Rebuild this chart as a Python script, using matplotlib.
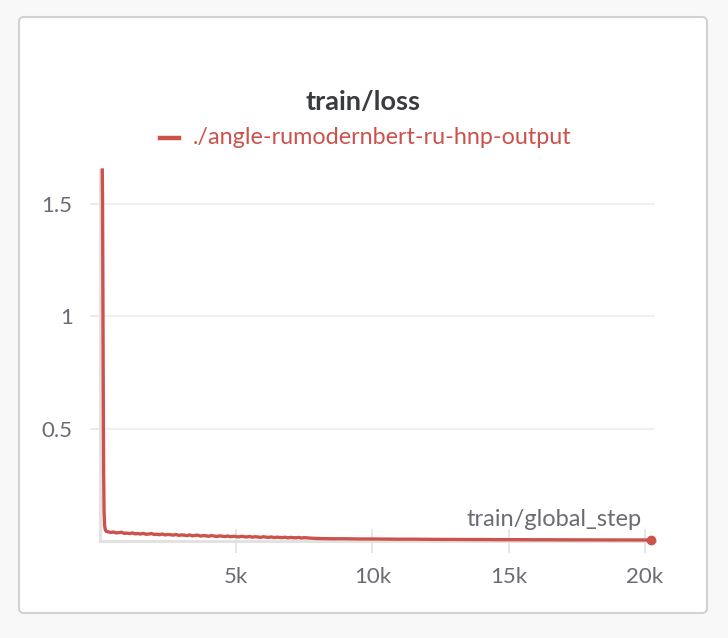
import matplotlib
matplotlib.use("Agg")
import matplotlib.pyplot as plt
from matplotlib.patches import FancyBboxPatch
from matplotlib.transforms import IdentityTransform

# ---- data ----
steps_drop = [95, 105, 115, 125, 135, 145, 160, 180, 205, 240]
loss_drop = [1.65, 1.50, 1.20, 0.85, 0.55, 0.30, 0.13, 0.07, 0.05, 0.043]

steps_mid = [300, 400, 500, 600, 700, 800, 900, 1000, 1100, 1200, 1300, 1400,
             1500, 1600, 1700, 1800, 1900, 2000, 2100, 2200, 2300, 2400, 2500,
             2600, 2700, 2800, 2900, 3000, 3100, 3200, 3300, 3400, 3500, 3600,
             3700, 3800, 3900, 4000, 4100, 4200, 4300, 4400, 4500, 4600, 4700,
             4800, 4900, 5000, 5100, 5200, 5300, 5400, 5500, 5600, 5700, 5800,
             5900, 6000, 6100, 6200, 6300, 6400, 6500, 6600, 6700, 6800, 6900,
             7000, 7100, 7200, 7300, 7400, 7500, 7600, 7700]
loss_mid = [0.041, 0.038, 0.040, 0.036, 0.037, 0.039, 0.034, 0.035, 0.033, 0.036,
            0.032, 0.033, 0.031, 0.034, 0.030, 0.031, 0.033, 0.029, 0.030, 0.028,
            0.031, 0.027, 0.029, 0.028, 0.026, 0.029, 0.025, 0.027, 0.026, 0.024,
            0.027, 0.023, 0.025, 0.026, 0.022, 0.024, 0.023, 0.021, 0.024, 0.022,
            0.020, 0.023, 0.021, 0.020, 0.022, 0.019, 0.021, 0.020, 0.018, 0.021,
            0.019, 0.018, 0.020, 0.017, 0.019, 0.018, 0.016, 0.019, 0.017, 0.016,
            0.018, 0.015, 0.017, 0.016, 0.015, 0.017, 0.014, 0.016, 0.015, 0.014,
            0.016, 0.013, 0.015, 0.014, 0.013]

steps_tail = [8000, 8500, 9000, 9500, 10000, 10500, 11000, 11500, 12000, 12500,
              13000, 13500, 14000, 14500, 15000, 15500, 16000, 16500, 17000,
              17500, 18000, 18500, 19000, 19500, 20000, 20230]
loss_tail = [0.011, 0.010, 0.010, 0.009, 0.009, 0.0085, 0.008, 0.008, 0.0075,
             0.007, 0.007, 0.0065, 0.0065, 0.006, 0.006, 0.0058, 0.0055, 0.0055,
             0.0052, 0.005, 0.005, 0.0048, 0.0047, 0.0046, 0.0045, 0.0045]

steps = steps_drop + steps_mid + steps_tail
loss = loss_drop + loss_mid + loss_tail

x_ticks = [5000, 10000, 15000, 20000]
x_tick_labels = ["5k", "10k", "15k", "20k"]
y_ticks = [0.5, 1.0, 1.5]
y_tick_labels = ["0.5", "1", "1.5"]

title = "train/loss"
series_name = "./angle-rumodernbert-ru-hnp-output"
x_label = "train/global_step"

# ---- style ----
plt.rcParams['font.family'] = ['Lato', 'DejaVu Sans']
RED = '#cc524c'
GRAY_TXT = '#6b6b76'
W, H = 728, 638

fig = plt.figure(figsize=(W / 100, H / 100), dpi=100)
fig.patch.set_facecolor('#f8f8f8')

card = FancyBboxPatch((19, H - 613), 707 - 19, 613 - 17,
                      boxstyle="round,pad=0,rounding_size=5",
                      transform=IdentityTransform(), facecolor='white',
                      edgecolor='#d2d2d2', linewidth=1.5, zorder=-10)
fig.patches.append(card)

def px(x, y):
    return x / W, 1 - y / H

x0, x1 = 99.7, 655.0
y0, y1 = 541.0, 170.0
ax = fig.add_axes([x0 / W, 1 - y0 / H, (x1 - x0) / W, (y0 - y1) / H])
ax.set_facecolor('none')
ax.set_zorder(1)
xmax = (x1 - x0) / 136.3 * 5000
ax.set_xlim(0, xmax)
ax.set_ylim(0, 1.65)

ax.plot(steps, loss, color=RED, lw=2.4, solid_joinstyle='round', zorder=3, clip_on=False)
ax.plot([steps[-1]], [loss[-1]], 'o', color=RED, ms=6, zorder=4, clip_on=False)

for s in ['top', 'right']:
    ax.spines[s].set_visible(False)
for s in ['left', 'bottom']:
    ax.spines[s].set_color('#e2e2e2')
    ax.spines[s].set_linewidth(2.2)

ax.set_xticks(x_ticks)
ax.set_xticklabels(x_tick_labels)
ax.set_yticks(y_ticks)
ax.set_yticklabels(y_tick_labels)
ax.tick_params(axis='x', direction='inout', length=17, width=1.4, color='#e6e6e6',
               labelsize=16, labelcolor=GRAY_TXT, pad=10)
ax.tick_params(axis='y', direction='out', length=7.5, width=1.2, color='#e6e6e6',
               labelsize=16, labelcolor=GRAY_TXT, pad=12)
ax.grid(axis='y', color='#ececec', lw=1.1)
ax.set_axisbelow(True)

fig.text(*px(363, 102), title, ha='center', va='center', fontsize=19.5,
         fontweight='bold', color='#3a3b3f')
fig.lines.append(plt.Line2D([160 / W, 179 / W], [1 - 138 / H, 1 - 138 / H],
                            transform=fig.transFigure, color=RED, lw=3.2))
fig.text(*px(193, 138), series_name, ha='left', va='center', fontsize=16.8,
         color=RED)
fig.text(*px(642, 520), x_label, ha='right', va='center', fontsize=17,
         color=GRAY_TXT)

fig.savefig('out.png', dpi=100, facecolor=fig.get_facecolor())
